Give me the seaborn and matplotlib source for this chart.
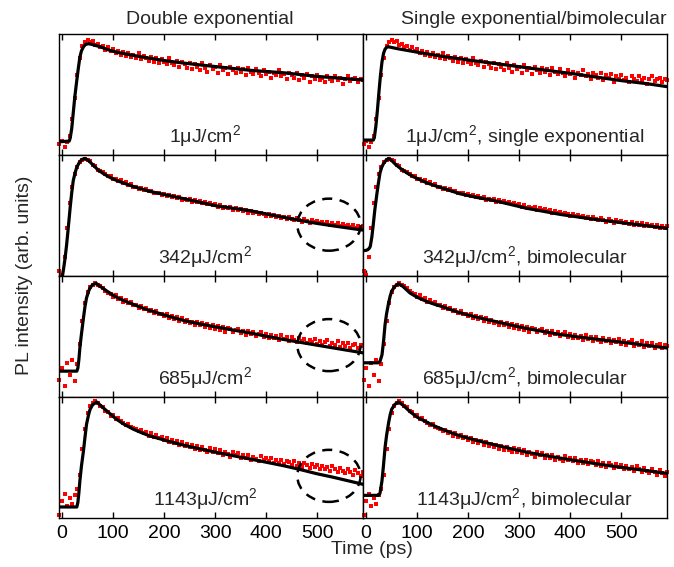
import numpy as np
import pandas as pd
import matplotlib
matplotlib.use('Agg')
import matplotlib.pyplot as plt
import seaborn as sns
from matplotlib.patches import Ellipse

sns.set_theme(style='ticks')
plt.rcParams['font.family'] = ['Liberation Sans', 'DejaVu Sans']
plt.rcParams['mathtext.default'] = 'regular'

# measured PL transients (arb. units, 0-100 of panel height), one point every 5 ps
time_ps = np.arange(-5, 595, 5)

pl_1uJ = [9, 12, 7, 11, 16, 30, 47, 66, 80, 90,
          93, 95, 93, 94, 91, 92, 89, 90, 87, 89,
          86, 88, 84, 86, 83, 85, 82, 84, 81, 83,
          80, 84, 79, 82, 80, 78, 81, 77, 80, 76,
          79, 77, 75, 80, 76, 74, 78, 73, 77, 75,
          72, 76, 71, 75, 73, 70, 76, 72, 69, 74,
          71, 73, 68, 74, 70, 72, 67, 73, 70, 68,
          72, 69, 71, 66, 72, 69, 67, 71, 68, 65,
          70, 67, 69, 64, 68, 66, 70, 65, 67, 63,
          68, 66, 64, 68, 62, 66, 64, 67, 60, 65,
          63, 66, 62, 64, 60, 65, 63, 61, 65, 62,
          64, 59, 63, 65, 61, 63, 64, 60, 63, 62]

pl_342uJ = [4, 1, 16, 40, 60, 74, 84, 90, 94, 96,
            97, 96, 95, 92, 91, 88, 87, 86, 84, 83,
            82.5, 80.5, 80, 78.5, 79, 77, 77.5, 75.5, 76, 74,
            73.5, 72, 73, 71, 72, 70, 70.5, 69, 68.5, 68.5,
            67, 68, 66, 67, 65.5, 66, 64.5, 65, 63, 64,
            62.5, 63.5, 61.5, 62.5, 61, 62, 60, 61, 59.5, 60.5,
            58.5, 59.5, 57.5, 58.5, 56.5, 57.5, 56, 57, 55, 56,
            54.5, 55.5, 53.5, 54.5, 52.5, 53.5, 52, 53, 51, 52.5,
            51, 50, 51.5, 49.5, 50.5, 48.5, 50, 48, 49, 47.5,
            48.5, 47, 46, 48, 46.5, 45, 47, 45.5, 44, 46,
            44.5, 45.5, 43.5, 45, 43, 44.5, 42.5, 44, 42, 43.5,
            41.5, 43, 41, 42.5, 40.5, 42, 40, 41.5, 39.5, 41]

pl_685uJ = [14, 24, 9, 28, 18, 31, 13, 27, 44, 63,
            78, 87, 91, 93, 94.5, 93, 92, 90, 88, 86,
            85.5, 83, 84, 81, 82, 79, 80, 77.5, 78.5, 76,
            76.5, 74, 75, 72.5, 74, 71, 72, 69.5, 71, 68.5,
            69, 67, 68.5, 65.5, 67, 64.5, 66, 63, 65, 62.5,
            64, 61, 62.5, 60, 62, 59.5, 61, 58, 60.5, 57.5,
            59.5, 56.5, 58.5, 55.5, 58, 54, 57, 56, 53.5, 55.5,
            56, 53, 54.5, 51.5, 55, 52, 53.5, 50.5, 52.5, 54,
            50, 52, 49, 51.5, 48.5, 50.5, 47.5, 51, 48, 49.5,
            46, 50, 47.5, 45.5, 49, 46.5, 48, 44.5, 47, 45.5,
            48, 44, 46, 43.5, 45.5, 47, 42.5, 45, 43, 46,
            41.5, 44.5, 42.5, 45, 41, 43.5, 44, 40.5, 43, 42]

pl_1143uJ = [3, 14, 20, 10, 17, 12, 19, 24, 36, 57,
             74, 87, 92.5, 95, 96.5, 95, 93, 91.5, 88.5, 87.5,
             84.5, 85, 82, 82.5, 80, 79, 77, 78, 75, 74.5,
             73.5, 72, 73, 70.5, 71.5, 68, 70, 67, 68.5, 66,
             67, 64.5, 66.5, 63, 65, 62, 64, 60.5, 63, 60,
             61.5, 58.5, 60.5, 57.5, 60, 56, 59, 56.5, 54.5, 58,
             55, 57, 53.5, 56, 52.5, 55, 53, 51, 54.5, 52,
             53.5, 50, 52.5, 49.5, 52, 48.5, 51, 49, 47.5, 51.5,
             48, 50, 47, 49.5, 46, 48.5, 45.5, 48, 44.5, 47,
             46.5, 44, 47.5, 43.5, 46, 42.5, 45.5, 44, 41.5, 45,
             42.5, 44, 41, 43.5, 40.5, 42.5, 39, 43, 40.5, 38.5,
             41.5, 39, 37.5, 40.5, 38, 36, 39.5, 37, 34.5, 38]

# fitted curves: double exponential (left column)
dexp_1uJ_t = [-6, 14, 16, 19, 22, 25, 29, 32, 35, 38, 42, 46, 51, 58, 66, 75, 90, 107, 140, 172,
              205, 238, 270, 303, 336, 369, 401, 434, 467, 499, 530, 560, 590]
dexp_1uJ_v = [11, 11.5, 14, 22, 35, 48, 62, 72, 81, 86, 89.5, 91.3, 92, 91.5, 90.5, 89.5, 87, 85, 82.3, 80,
              77.8, 76, 74.5, 73, 71.5, 70, 69, 68, 66.5, 65, 64, 63, 62]

dexp_342uJ_t = [0, 3, 6, 9, 12, 16, 19, 22, 26, 29, 34, 39, 45, 52, 61, 70, 81, 94, 107, 120, 140, 172,
                205, 238, 270, 303, 336, 369, 401, 434, 467, 499, 530, 560, 590]
dexp_342uJ_v = [-2, 6, 15, 26, 39, 57, 69, 79, 86, 90, 94, 96.4, 97.2, 95.5, 91.7, 88, 84.7, 81.5, 79, 77, 74, 70,
                67, 64, 61, 58, 56, 54, 51.3, 48.6, 46, 43.6, 41.6, 39.8, 38]

dexp_685uJ_t = [-6, 29, 31, 33, 35, 38, 42, 45, 48, 52, 55, 60, 67, 75, 88, 100, 107, 120, 140, 156, 172,
                205, 238, 270, 303, 336, 369, 401, 434, 467, 499, 530, 560, 590]
dexp_685uJ_v = [21.5, 21.5, 24, 31, 41, 52, 65.6, 75, 82, 87.5, 90.3, 93, 94, 91.5, 87.6, 84.3, 82.6, 80, 76.6, 74, 71.6,
                67.3, 63.4, 60.5, 57.9, 55.4, 53, 50.3, 47.7, 45.3, 43, 40.8, 38.7, 36.6]

dexp_1143uJ_t = [-6, 29, 31, 33, 35, 38, 42, 45, 48, 52, 55, 60, 68, 76, 88, 100, 107, 120, 140, 156, 172,
                 205, 238, 270, 303, 336, 369, 401, 434, 467, 499, 530, 560, 590]
dexp_1143uJ_v = [9.3, 9.3, 13, 21, 31, 43, 55.7, 67, 77.6, 85.5, 90, 93.8, 96, 93, 88.5, 84.2, 81.7, 78, 73.5, 70.6, 68,
                 64, 60.4, 57.3, 54.4, 51.6, 48.9, 46.2, 43.4, 40.2, 36.8, 34, 31, 28]

# single exponential (1 uJ) and bimolecular fits (right column)
sexp_1uJ_t = [-6, 14, 16, 19, 22, 25, 28, 31, 34, 37, 40, 43, 60, 100, 150, 200, 250, 300, 350, 400,
              450, 500, 550, 590]
sexp_1uJ_v = [12.4, 12.4, 14.5, 24, 37, 52, 66, 77, 84, 87.5, 89, 89.5, 88, 85, 81.5, 78.5, 75.8, 73, 70.2, 67.5,
              64.5, 61.5, 59, 56.5]

bimol_342uJ_t = [-6, 0, 3, 6, 8, 11, 14, 17, 21, 24, 27, 30, 34, 39, 44, 50, 57, 67, 80, 93, 106, 119, 140,
                 162, 184, 217, 250, 283, 315, 348, 380, 413, 446, 478, 511, 550, 590]
bimol_342uJ_v = [21, 21.3, 21.8, 23, 24.5, 32, 43, 55, 68, 77, 85, 89.5, 93, 95.8, 97.2, 95.5, 92.5, 89, 85.2, 82, 79.5, 77, 74,
                 71, 68, 65, 62.5, 59.2, 56, 53.5, 51, 49, 47, 45.3, 43.6, 41.6, 39.5]

bimol_685uJ_t = [-6, 24, 27, 31, 34, 37, 40, 44, 47, 50, 56, 63, 72, 86, 100, 119, 135, 152, 168, 184,
                 217, 250, 283, 315, 348, 380, 413, 446, 478, 511, 550, 590]
bimol_685uJ_v = [28.4, 28.4, 29.5, 35, 46, 60, 69, 78, 83.5, 87.6, 91.5, 93.7, 91.5, 86, 82.5, 79, 76.6, 74.4, 72, 69.7,
                 66, 62.8, 59.6, 56.7, 54.2, 51.8, 49.9, 48.2, 46.5, 44.9, 42.8, 40.6]

bimol_1143uJ_t = [-6, 24, 27, 31, 34, 37, 40, 44, 47, 50, 56, 63, 72, 86, 100, 119, 135, 152, 168, 184,
                  217, 250, 283, 315, 348, 380, 413, 446, 478, 511, 550, 590]
bimol_1143uJ_v = [18.9, 18.9, 20.5, 31, 44, 58.5, 68.5, 79, 85.5, 90, 94, 96, 93.5, 88, 83.5, 79.3, 76, 73, 70.4, 68,
                  64.2, 60.8, 57.5, 54.5, 52, 49.7, 47.5, 45.3, 43.3, 41.4, 39.3, 37]

fluences = ['1', '342', '685', '1143']
right_notes = ['single exponential', 'bimolecular', 'bimolecular', 'bimolecular']

measured = [pl_1uJ, pl_342uJ, pl_685uJ, pl_1143uJ]
left_fits = [(dexp_1uJ_t, dexp_1uJ_v), (dexp_342uJ_t, dexp_342uJ_v),
             (dexp_685uJ_t, dexp_685uJ_v), (dexp_1143uJ_t, dexp_1143uJ_v)]
right_fits = [(sexp_1uJ_t, sexp_1uJ_v), (bimol_342uJ_t, bimol_342uJ_v),
              (bimol_685uJ_t, bimol_685uJ_v), (bimol_1143uJ_t, bimol_1143uJ_v)]

fig, axes = plt.subplots(4, 2, figsize=(6.74, 5.67), dpi=100, sharex=True, sharey=True)
fig.subplots_adjust(left=0.0875, right=0.99, top=0.94, bottom=0.086, wspace=0, hspace=0)

# mismatch regions highlighted in the double exponential fits (rows 2-4)
ellipse_y = [None, 42.5, 43, 35]

for row in range(4):
    df = pd.DataFrame({'t': time_ps, 'pl': measured[row]})
    for col in range(2):
        ax = axes[row, col]
        sns.scatterplot(data=df, x='t', y='pl', ax=ax, color='red', marker='s', s=10,
                        linewidth=0, clip_on=False, zorder=2)
        ft, fv = left_fits[row] if col == 0 else right_fits[row]
        sns.lineplot(x=ft, y=fv, ax=ax, color='black', lw=2.3, sort=False,
                     estimator=None, zorder=3)
        if col == 0:
            label = fluences[row] + 'μJ/cm$^2$'
            ax.text(0.48, 0.16, label, transform=ax.transAxes, ha='center',
                    va='center', fontsize=14)
            if ellipse_y[row] is not None:
                ax.add_patch(Ellipse((523, ellipse_y[row]), 124, 43, fill=False,
                                     edgecolor='black', lw=1.8, ls=(0, (4, 3)),
                                     clip_on=False, zorder=4))
        else:
            label = fluences[row] + 'μJ/cm$^2$, ' + right_notes[row]
            ax.text(0.53, 0.16, label, transform=ax.transAxes, ha='center',
                    va='center', fontsize=14)
        ax.set_xlim(-6, 590)
        ax.set_ylim(0, 100)
        ax.set_xticks([0, 100, 200, 300, 400, 500])
        ax.set_yticks([])
        ax.set_xlabel('')
        ax.set_ylabel('')
        ax.tick_params(axis='x', direction='in', top=True, length=4, width=1,
                       labelsize=14, pad=5, colors='black')
        for sp in ax.spines.values():
            sp.set_color('black')
            sp.set_linewidth(1)

fig.text(210 / 674, 1 - 19 / 567, 'Double exponential', ha='center', va='center', fontsize=14)
fig.text(534 / 674, 1 - 19 / 567, 'Single exponential/bimolecular', ha='center', va='center', fontsize=14)
fig.text(25 / 674, 0.515, 'PL intensity (arb. units)', rotation=90, ha='center', va='center', fontsize=14)
fig.text(372 / 674, 1 - 550 / 567, 'Time (ps)', ha='center', va='center', fontsize=14)

fig.savefig('out.png', dpi=100)
